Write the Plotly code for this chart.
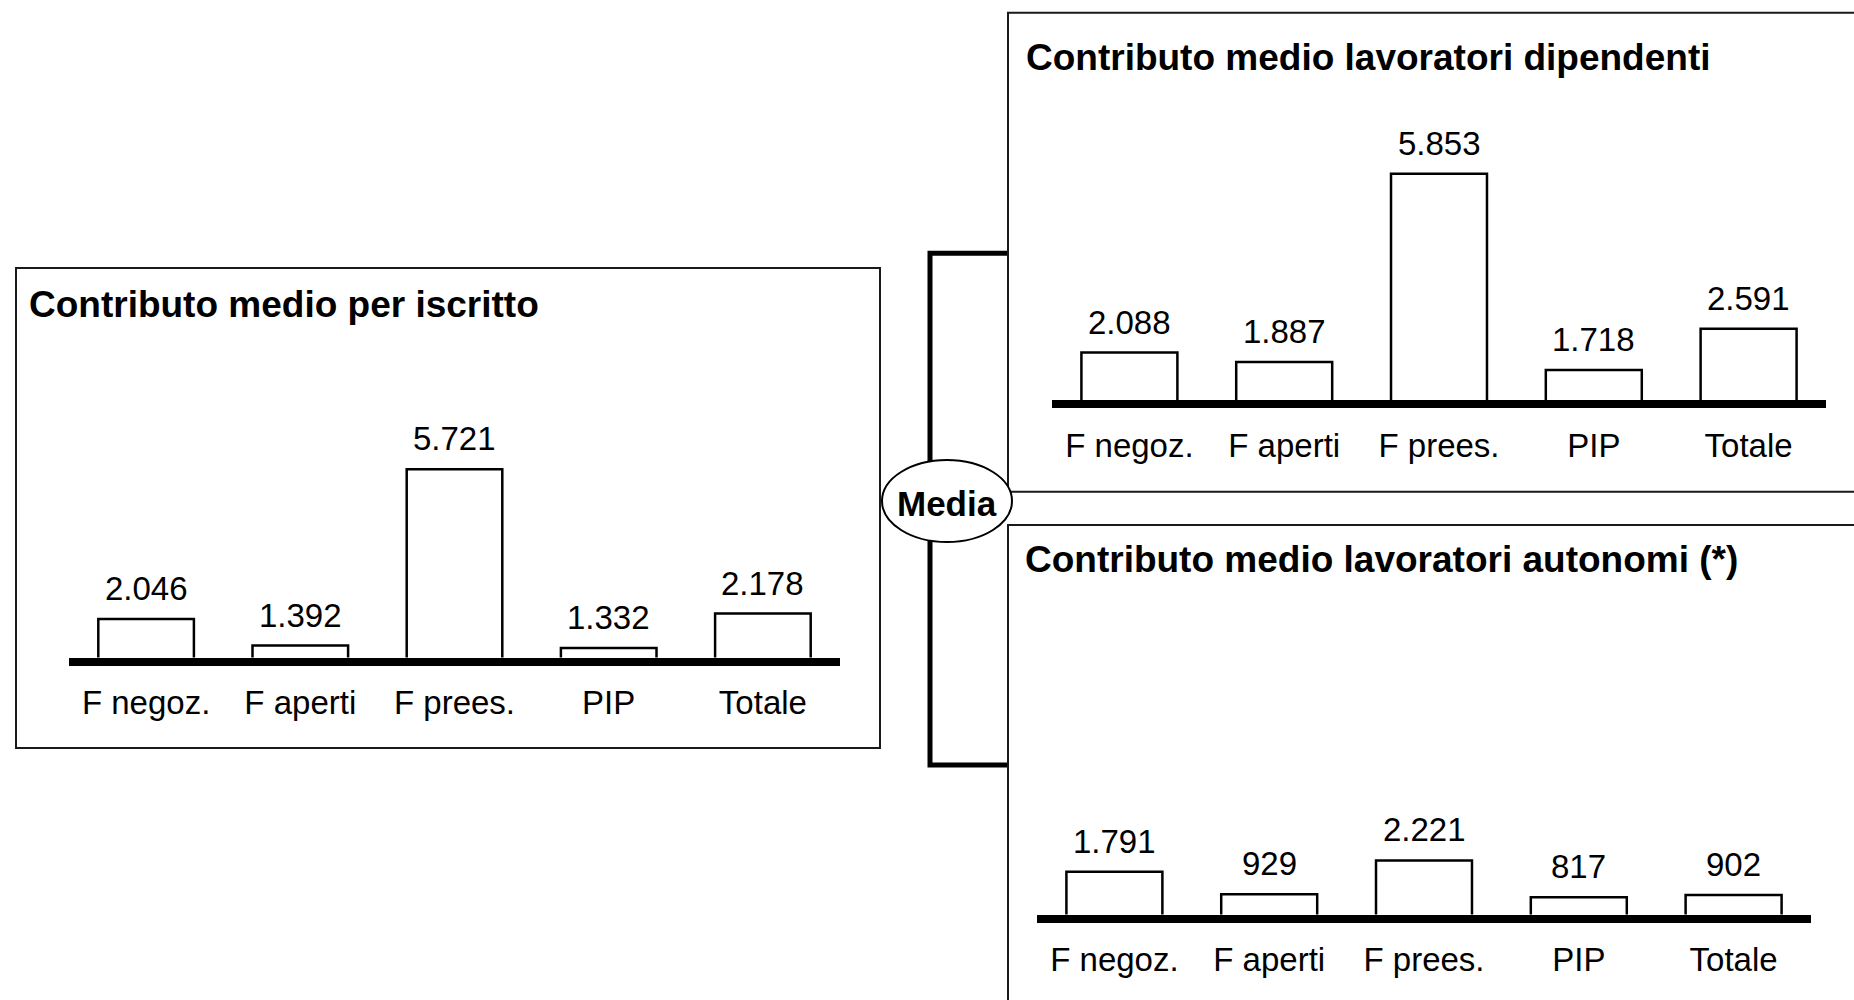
import plotly.graph_objects as go

W, H = 1854, 1000
FONT = "Liberation Sans, Arial, Helvetica, sans-serif"

categorie = ["F negoz.", "F aperti", "F prees.", "PIP", "Totale"]
media_iscritto = [2046, 1392, 5721, 1332, 2178]
media_dipendenti = [2088, 1887, 5853, 1718, 2591]
media_autonomi = [1791, 929, 2221, 817, 902]

titoli = [
    "Contributo medio per iscritto",
    "Contributo medio lavoratori dipendenti",
    "Contributo medio lavoratori autonomi (*)",
]

# value range of each y axis in euro (the first two start from a cut axis)
scala_iscritto = (1000, 7000)
scala_dipendenti = (1000, 7000)
scala_autonomi = (0, 10000)

LINEA = 8  # thickness of the base line
TESTO = 33  # size of value and category labels
TITOLO = 37  # size of the bold headings


def px(x):
    return x / W


def py(y):
    return 1 - y / H


def euro(v):
    return f"{v:,}".replace(",", ".")


# placement of each panel in pixels: horizontal span of the base line,
# vertical position of the base line and of the top of the value range
pannelli = [
    dict(valori=media_iscritto, scala=scala_iscritto, x0=69, x1=840, base=661.5, cima=417.1,
         titolo=(27.4, 282.0)),
    dict(valori=media_dipendenti, scala=scala_dipendenti, x0=1052, x1=1826, base=404.2, cima=119.4,
         titolo=(1024.4, 35.4)),
    dict(valori=media_autonomi, scala=scala_autonomi, x0=1037, x1=1811, base=918.5, cima=657.1,
         titolo=(1023.4, 537.1)),
]

fig = go.Figure()
annotazioni = []
layout_assi = {}

for i, p in enumerate(pannelli):
    n = "" if i == 0 else str(i + 1)
    b, t = p["scala"]
    passo = (p["base"] - p["cima"]) / (t - b)  # pixels per euro
    # the axis line is drawn just outside the plot area, so the value b sits on its centre
    ymin = b + (LINEA / 2) / passo
    fig.add_trace(go.Bar(
        x=categorie, y=p["valori"],
        xaxis="x" + n, yaxis="y" + n,
        marker=dict(color="white", line=dict(color="black", width=2.5)),
        showlegend=False, hoverinfo="x+y",
    ))
    layout_assi["xaxis" + n] = dict(
        domain=[px(p["x0"]), px(p["x1"])], anchor="y" + n,
        range=[-0.5, 4.5], showline=True, linewidth=LINEA, linecolor="black",
        showgrid=False, zeroline=False, ticks="", ticklabelstandoff=9,
        tickfont=dict(family=FONT, size=TESTO, color="black"), fixedrange=True,
    )
    layout_assi["yaxis" + n] = dict(
        domain=[py(p["base"] - LINEA / 2), py(p["cima"])], anchor="x" + n,
        range=[ymin, t], visible=False, showgrid=False, zeroline=False, fixedrange=True,
    )
    for c, v in zip(categorie, p["valori"]):
        annotazioni.append(dict(
            x=c, y=v, xref="x" + n, yref="y" + n, text=euro(v), showarrow=False,
            xanchor="center", yanchor="bottom", yshift=10,
            font=dict(family=FONT, size=TESTO, color="black"),
        ))
    tx, ty = p["titolo"]
    annotazioni.append(dict(
        x=px(tx), y=py(ty), xref="paper", yref="paper", text="<b>" + titoli[i] + "</b>",
        showarrow=False, xanchor="left", yanchor="top",
        font=dict(family=FONT, size=TITOLO, color="black"),
    ))

annotazioni.append(dict(
    x=px(947), y=py(503), xref="paper", yref="paper", text="<b>Media</b>",
    showarrow=False, xanchor="center", yanchor="middle",
    font=dict(family=FONT, size=35, color="black"),
))

cornice = dict(color="#1a1a1a", width=2)
forme = [
    # panel frames
    dict(type="rect", xref="paper", yref="paper", x0=px(16), x1=px(880), y0=py(268), y1=py(748),
         line=cornice, fillcolor="rgba(0,0,0,0)"),
    dict(type="rect", xref="paper", yref="paper", x0=px(1008), x1=px(1880), y0=py(12.7), y1=py(491.7),
         line=cornice, fillcolor="rgba(0,0,0,0)"),
    dict(type="rect", xref="paper", yref="paper", x0=px(1008), x1=px(1880), y0=py(525), y1=py(1020),
         line=cornice, fillcolor="rgba(0,0,0,0)"),
    # bracket joining the two breakdowns
    dict(type="path", xref="paper", yref="paper",
         path=f"M {px(1007)},{py(253.3)} L {px(930)},{py(253.3)} L {px(930)},{py(765)} L {px(1007)},{py(765)}",
         line=dict(color="black", width=5)),
    # "Media" bubble
    dict(type="circle", xref="paper", yref="paper", x0=px(882), x1=px(1012), y0=py(460), y1=py(542),
         line=dict(color="black", width=2), fillcolor="white"),
]

fig.update_layout(
    width=W, height=H, margin=dict(l=0, r=0, t=0, b=0),
    paper_bgcolor="white", plot_bgcolor="rgba(0,0,0,0)",
    bargap=0.38, font=dict(family=FONT, color="black"),
    annotations=annotazioni, shapes=forme, **layout_assi,
)

fig.write_html("out.html", config={"displayModeBar": False})
